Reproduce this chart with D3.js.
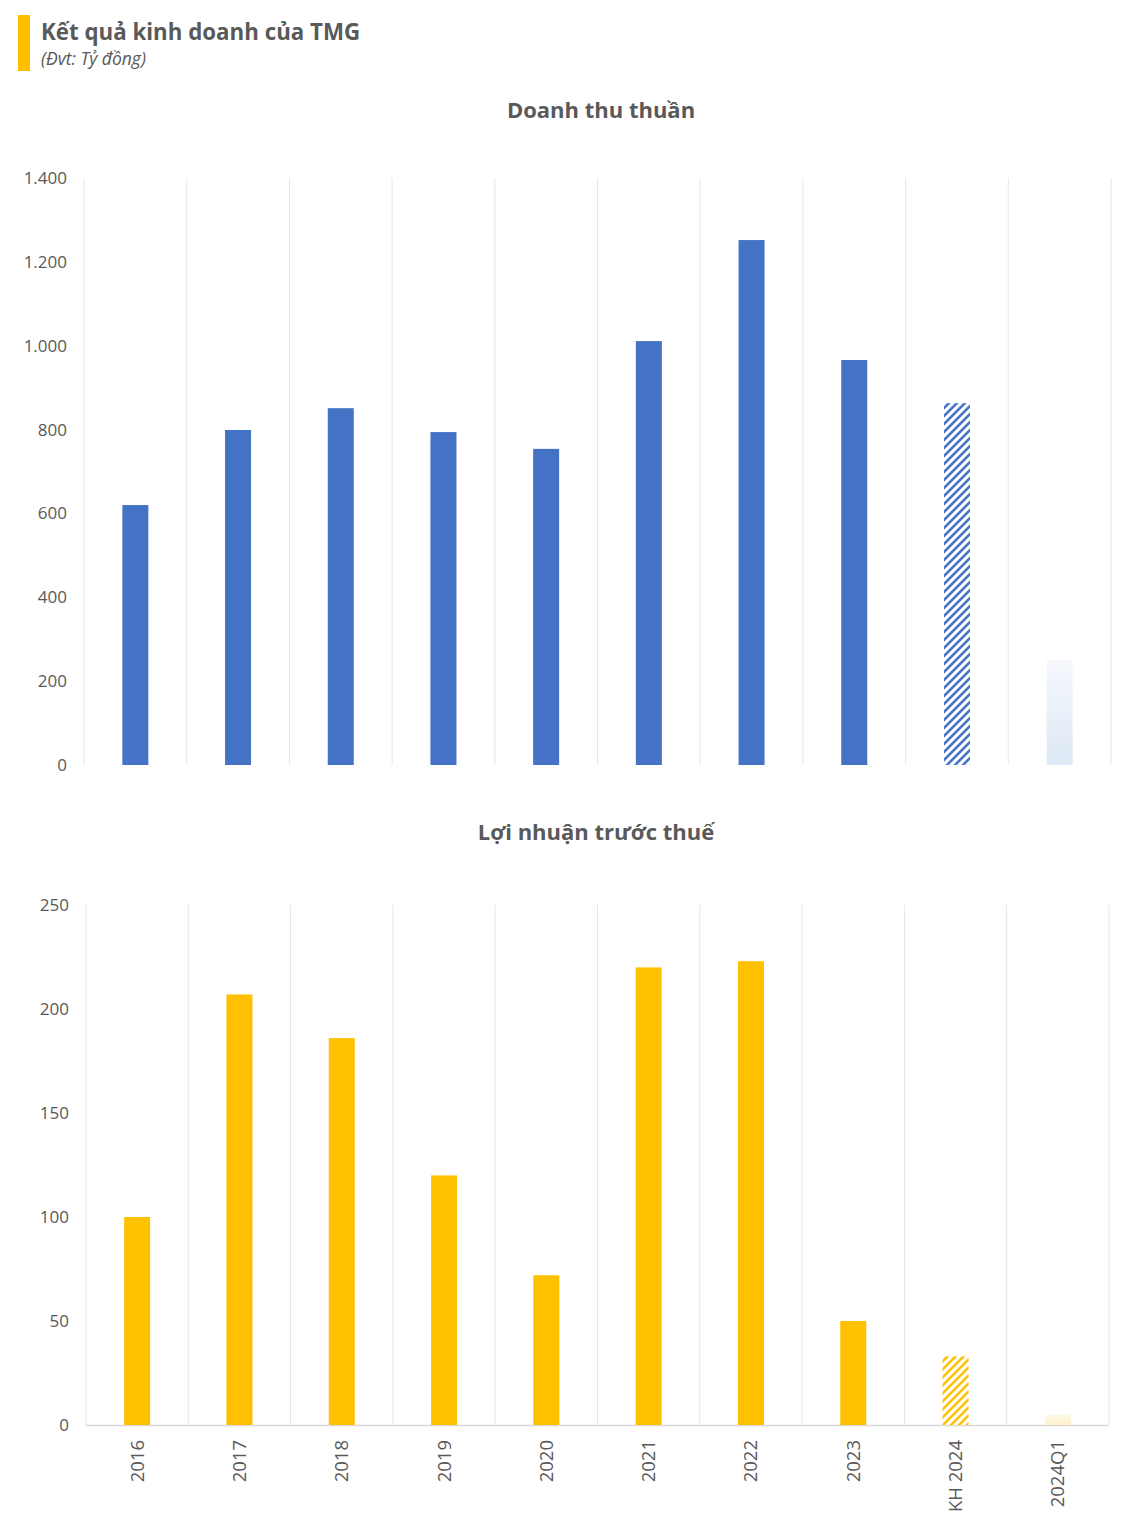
<!DOCTYPE html>
<html><head><meta charset="utf-8">
<script src="https://cdn.jsdelivr.net/npm/d3@7"></script>
<style>body{margin:0;background:#fff;} svg{display:block;font-family:"Open Sans",sans-serif;}</style>
</head><body>
<svg id="c" width="1124" height="1536"></svg>
<script>
const categories = ["2016","2017","2018","2019","2020","2021","2022","2023","KH 2024","2024Q1"];
const revenue = [620, 799, 851, 794, 754, 1011, 1252, 966, 863, 250];
const profit = [100, 207, 186, 120, 72, 220, 223, 50, 33, 5];
const revTicks = [0,200,400,600,800,1000,1200,1400];
const profTicks = [0,50,100,150,200,250];
const barKind = ["solid","solid","solid","solid","solid","solid","solid","solid","hatch","fade"];

const svg = d3.select("#c");
const textCol = "#595959";
const defs = svg.append("defs");

function makeDefs(id, color, fadeTop, fadeBot){
  const s = 8;
  const p = defs.append("pattern").attr("id","hatch-"+id).attr("patternUnits","userSpaceOnUse")
    .attr("width",s).attr("height",s);
  p.append("rect").attr("width",s).attr("height",s).attr("fill","#fff");
  p.append("path").attr("d",`M-2,2 l4,-4 M0,${s} l${s},-${s} M${s-2},${s+2} l4,-4`).attr("stroke",color).attr("stroke-width",2.6);
  const g = defs.append("linearGradient").attr("id","fade-"+id).attr("x1",0).attr("y1",0).attr("x2",0).attr("y2",1);
  g.append("stop").attr("offset","0%").attr("stop-color",fadeTop);
  g.append("stop").attr("offset","100%").attr("stop-color",fadeBot);
}
makeDefs("blue","#4472C4","#f6f8fc","#dce8f5");
makeDefs("yellow","#FFC000","#fff9ec","#fff0c8");

// Header
svg.append("rect").attr("x",18).attr("y",15).attr("width",12).attr("height",56).attr("fill","#FFC000");
svg.append("text").attr("x",41).attr("y",40).attr("font-size",22.3).attr("font-weight",700).attr("fill",textCol)
  .text("Kết quả kinh doanh của TMG");
svg.append("text").attr("x",41).attr("y",65).attr("font-size",17.5).attr("font-style","italic").attr("fill",textCol)
  .text("(Đvt: Tỷ đồng)");

function drawChart(cfg){
  const x = d3.scaleBand().domain(categories).range([cfg.left,cfg.right]).paddingInner(0).paddingOuter(0);
  const y = d3.scaleLinear().domain([0,cfg.max]).range([cfg.bottom,cfg.top]);
  const g = svg.append("g");
  g.append("text").attr("x",cfg.titleX).attr("y",cfg.titleY).attr("text-anchor","middle")
    .attr("font-size",22).attr("font-weight",700).attr("fill",textCol).text(cfg.title);
  const edges = categories.map(c=>x(c)).concat([cfg.right]);
  g.selectAll("line.vg").data(edges).join("line")
    .attr("x1",d=>d).attr("x2",d=>d).attr("y1",cfg.top).attr("y2",cfg.bottom)
    .attr("stroke","#e6e6e6").attr("stroke-width",1);
  if(cfg.axisLine){
    g.append("line").attr("x1",cfg.left).attr("x2",cfg.right).attr("y1",cfg.bottom+0.5).attr("y2",cfg.bottom+0.5)
      .attr("stroke","#d9d9d9").attr("stroke-width",1.5);
  }
  const ya = g.append("g").attr("transform",`translate(${cfg.tickX},0)`)
    .call(d3.axisLeft(y).tickValues(cfg.ticks).tickSize(0).tickPadding(0)
      .tickFormat(d=>d3.format(",")(d).replace(/,/g,".")));
  ya.select(".domain").remove();
  ya.selectAll("text").attr("font-size",17).attr("fill",textCol).attr("font-family","Open Sans, sans-serif");
  const bw = 26;
  g.selectAll("rect.bar").data(cfg.values).join("rect")
    .attr("x",(d,i)=>x(categories[i])+x.bandwidth()/2-bw/2)
    .attr("width",bw)
    .attr("y",d=>y(d)).attr("height",d=>cfg.bottom-y(d))
    .attr("fill",(d,i)=>barKind[i]==="solid"?cfg.color:(barKind[i]==="hatch"?`url(#hatch-${cfg.id})`:`url(#fade-${cfg.id})`));
  if(cfg.xLabels){
    g.selectAll("text.xl").data(categories).join("text")
      .attr("transform",d=>`translate(${x(d)+x.bandwidth()/2+6.5},${cfg.bottom+15}) rotate(-90)`)
      .attr("text-anchor","end").attr("font-size",18.5).attr("fill",textCol).text(d=>d);
  }
}

drawChart({id:"blue",title:"Doanh thu thuần",titleX:601,titleY:118,left:84,right:1111,top:178,bottom:765,
  max:1400,ticks:revTicks,values:revenue,color:"#4472C4",tickX:67,axisLine:false,xLabels:false});
drawChart({id:"yellow",title:"Lợi nhuận trước thuế",titleX:596,titleY:840,left:86,right:1109,top:905,bottom:1425,
  max:250,ticks:profTicks,values:profit,color:"#FFC000",tickX:69,axisLine:true,xLabels:true});
</script>
</body></html>
